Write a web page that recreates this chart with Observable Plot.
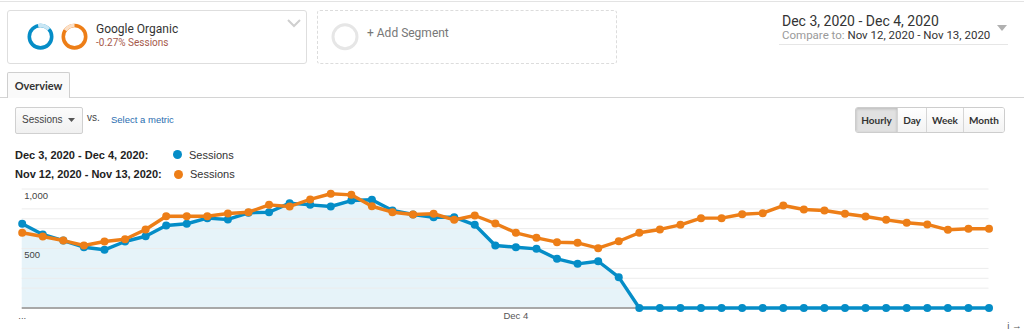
<!DOCTYPE html>
<html><head><meta charset="utf-8">
<script src="https://cdn.jsdelivr.net/npm/d3@7"></script>
<script src="https://cdn.jsdelivr.net/npm/@observablehq/plot@0.6"></script>
<style>
body{margin:0;width:1024px;height:331px;overflow:hidden;background:#fff;position:relative;font-family:Roboto,"Liberation Sans",Arial,sans-serif;color:#333;}
.a{position:absolute;white-space:nowrap;}
.btn{position:absolute;top:0;height:24px;text-align:center;font:700 10px Lato,"Liberation Sans",Arial,sans-serif;line-height:25px;color:#333;border-right:1px solid #d6d6d6;background:linear-gradient(#fff,#f3f3f3);}
</style></head><body>
<div class="a" style="left:0;top:1px;width:1024px;height:1px;background:#e3e3e3"></div>
<div class="a" style="left:7px;top:10px;width:298px;height:52px;border:1px solid #dedede;border-radius:3px"></div>
<svg class="a" id="donuts" style="left:24px;top:20px" width="70" height="34"></svg>
<div class="a" style="left:96px;top:21px;font-size:12px;line-height:16px;color:#333">Google Organic</div>
<div class="a" style="left:96px;top:37px;font-size:10px;line-height:12px;color:#a65a4b">-0.27% Sessions</div>
<svg class="a" style="left:287px;top:18px" width="14" height="10"><polyline points="1,2 7,8 13,2" fill="none" stroke="#cfcfcf" stroke-width="2"/></svg>
<div class="a" style="left:317px;top:10px;width:298px;height:52px;border:1px dashed #dcdcdc;border-radius:3px"></div>
<svg class="a" style="left:330px;top:22px" width="30" height="30"><circle cx="15" cy="14.7" r="12" fill="none" stroke="#e6e6e6" stroke-width="3"/></svg>
<div class="a" style="left:367px;top:25px;font-size:12px;line-height:16px;color:#777">+ Add Segment</div>
<div class="a" style="left:782px;top:12px;font-size:14px;line-height:18px;color:#333">Dec 3, 2020 - Dec 4, 2020</div>
<div class="a" style="left:782px;top:28px;font-size:11.5px;line-height:14px;color:#333"><span style="color:#9a9a9a">Compare to:</span> Nov 12, 2020 - Nov 13, 2020</div>
<div class="a" style="left:779px;top:44px;width:229px;height:1px;background:#e6e6e6"></div>
<svg class="a" style="left:997px;top:25px" width="10" height="6"><polygon points="0,0 10,0 5,6" fill="#b0b0b0"/></svg>
<div class="a" style="left:0;top:97px;width:1024px;height:1px;background:#d4d4d4"></div>
<div class="a" style="left:7px;top:72px;width:61px;height:25px;border:1px solid #cfcfcf;border-bottom:none;border-radius:2px 2px 0 0;background:#fafafa;text-align:center;font:700 11px Lato,'Liberation Sans',Arial,sans-serif;line-height:26px;color:#333">Overview</div>
<div class="a" style="left:15px;top:107px;width:66px;height:25px;border:1px solid #d0d0d0;border-radius:2px;background:linear-gradient(#fcfcfc,#f0f0f0)"></div>
<div class="a" style="left:22px;top:114px;font:10px 'Liberation Sans',Arial,sans-serif;line-height:12px;color:#444">Sessions</div>
<svg class="a" style="left:68px;top:118px" width="8" height="5"><polygon points="0,0 7,0 3.5,4" fill="#555"/></svg>
<div class="a" style="left:87px;top:112px;font:10px 'Liberation Sans',Arial,sans-serif;line-height:12px;color:#444">vs.</div>
<div class="a" style="left:111px;top:114px;font:9.5px 'Liberation Sans',Arial,sans-serif;line-height:12px;color:#2a6eb0">Select a metric</div>
<div class="a" style="left:855px;top:107px;width:148px;height:24px;border:1px solid #cdcdcd;border-radius:3px;overflow:hidden">
 <div class="btn" style="left:0;width:41px;background:#e1e1e1;box-shadow:inset 0 1px 3px rgba(0,0,0,.18)">Hourly</div>
 <div class="btn" style="left:42px;width:28px">Day</div>
 <div class="btn" style="left:71px;width:36px">Week</div>
 <div class="btn" style="left:108px;width:40px;border-right:none">Month</div>
</div>
<div class="a" style="left:15px;top:149px;font:700 11px 'Liberation Sans',Arial,sans-serif;line-height:13px;color:#222">Dec 3, 2020 - Dec 4, 2020:</div>
<div class="a" style="left:172.5px;top:149.5px;width:9px;height:9px;border-radius:50%;background:#058dc7"></div>
<div class="a" style="left:189px;top:149px;font:11px 'Liberation Sans',Arial,sans-serif;line-height:13px;color:#333">Sessions</div>
<div class="a" style="left:15px;top:168px;font:700 11px 'Liberation Sans',Arial,sans-serif;line-height:13px;color:#222">Nov 12, 2020 - Nov 13, 2020:</div>
<div class="a" style="left:173.5px;top:169.5px;width:9px;height:9px;border-radius:50%;background:#ed7e17"></div>
<div class="a" style="left:190px;top:168px;font:11px 'Liberation Sans',Arial,sans-serif;line-height:13px;color:#333">Sessions</div>
<div class="a" id="chart" style="left:0;top:180px;width:1024px;height:151px;overflow:hidden"></div>
<script>
// Sessions per hour, Dec 3 00:00 -> Dec 4 23:00
const currentSessions = [708,618,567,511,489,559,603,693,708,755,744,800,805,881,867,853,903,910,819,786,763,763,699,525,
  511,497,413,371,393,259,0,0,0,0,0,0,0,0,0,0,0,0,0,0,0,0,0,0];
// Sessions per hour, Nov 12 00:00 -> Nov 13 23:00
const compareSessions = [632,601,567,525,559,578,660,771,771,771,794,805,867,853,912,960,951,855,805,786,792,741,777,710,
  632,590,553,548,503,561,632,660,699,755,755,788,797,861,828,819,792,769,741,716,702,657,666,666];
const tickHours = [0, 24];
const tickLabels = ["...", "Dec 4"];
const yLabelValues = [500, 1000];
const gridValues = [167, 250, 333, 500, 667, 750, 833, 1000];

// decorative segment donuts
(function(){
  const svg = d3.select("#donuts");
  const donut = (cx, cy, r, main, light, a1, a2) => {
    svg.append("circle").attr("cx",cx).attr("cy",cy).attr("r",r).attr("fill","none").attr("stroke",main).attr("stroke-width",3.6);
    const p = a => [cx + r*Math.sin(a*Math.PI/180), cy - r*Math.cos(a*Math.PI/180)];
    const [x1,y1] = p(a1), [x2,y2] = p(a2);
    svg.append("path").attr("d",`M${x1},${y1}A${r},${r} 0 0 1 ${x2},${y2}`).attr("fill","none").attr("stroke",light).attr("stroke-width",3.6);
  };
  donut(16.5, 16.7, 11.2, "#058dc7", "#c9e6f4", -12, 48);
  donut(50.5, 16.7, 11.2, "#ed7e17", "#fbe0c8", -55, 0);
})();

const cur = currentSessions.map((v, i) => ({i, v}));
const prev = compareSessions.map((v, i) => ({i, v}));

const chart = Plot.plot({
  width: 1024, height: 151,
  marginLeft: 21.7, marginRight: 35.5, marginTop: 8.5, marginBottom: 23.5,
  style: {fontFamily: "'Liberation Sans', Arial, sans-serif", background: "transparent"},
  x: {type: "linear", domain: [0, 47], axis: null},
  y: {domain: [0, 1000], axis: null},
  marks: [
    Plot.areaY(cur, {x: "i", y: "v", fill: "#058dc7", fillOpacity: 0.1}),
    Plot.ruleY(gridValues, {stroke: "#ececec", strokeWidth: 1}),
    Plot.ruleY([0], {stroke: "#a8a8a8", strokeWidth: 2}),
    Plot.axisX({ticks: tickHours, tickFormat: d => tickLabels[tickHours.indexOf(d)], tickSize: 0, tickPadding: 4, fontSize: 9.5, color: "#555"}),
    Plot.text(yLabelValues, {x: () => 0, y: d => d, text: d => d3.format(",")(d), textAnchor: "start", lineAnchor: "top", dx: 2, dy: 3, fontSize: 9.5, fill: "#444"}),
    Plot.lineY(cur, {x: "i", y: "v", stroke: "#058dc7", strokeWidth: 3.4}),
    Plot.dot(cur, {x: "i", y: "v", fill: "#058dc7", r: 4}),
    Plot.lineY(prev, {x: "i", y: "v", stroke: "#ed7e17", strokeWidth: 3.4}),
    Plot.dot(prev, {x: "i", y: "v", fill: "#ed7e17", r: 4})
  ]
});
document.getElementById("chart").appendChild(chart);
</script>
</body></html>
